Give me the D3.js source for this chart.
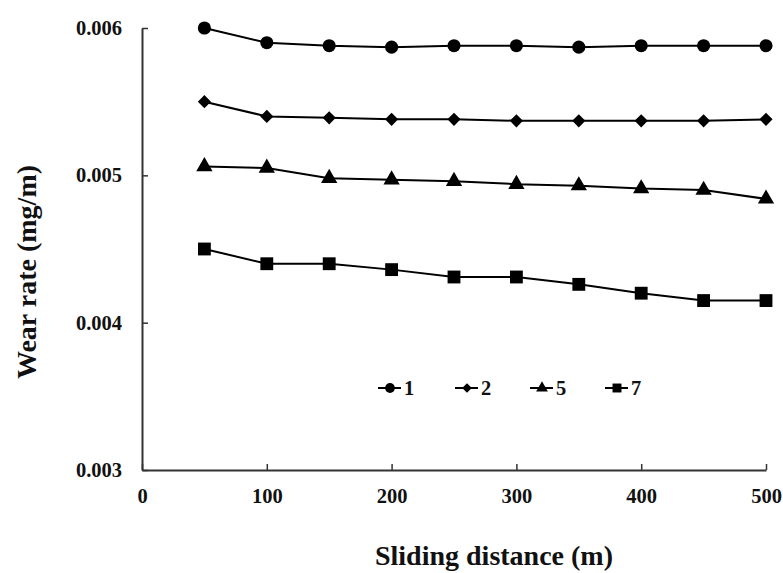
<!DOCTYPE html>
<html>
<head>
<meta charset="utf-8">
<script src="https://cdn.jsdelivr.net/npm/d3@7"></script>
<style>
  html, body { margin: 0; padding: 0; background: #fff; }
  svg { display: block; }
  text { font-family: "Liberation Serif", "Times New Roman", serif; font-weight: bold; fill: #111; }
</style>
</head>
<body>
<svg id="chart" width="783" height="573"></svg>
<script>
// ---- data ----
const distances = [50, 100, 150, 200, 250, 300, 350, 400, 450, 500];
const seriesNames = ["1", "2", "5", "7"];
const series1 = [0.00600, 0.00590, 0.00588, 0.00587, 0.00588, 0.00588, 0.00587, 0.00588, 0.00588, 0.00588];
const series2 = [0.00550, 0.00540, 0.00539, 0.00538, 0.00538, 0.00537, 0.00537, 0.00537, 0.00537, 0.00538];
const series5 = [0.00506, 0.00505, 0.00498, 0.00497, 0.00496, 0.00494, 0.00493, 0.00491, 0.00490, 0.00484];
const series7 = [0.00450, 0.00440, 0.00440, 0.00436, 0.00431, 0.00431, 0.00426, 0.00420, 0.00415, 0.00415];
const xTicks = [0, 100, 200, 300, 400, 500];
const yTicks = [0.003, 0.004, 0.005, 0.006];
const xTitle = "Sliding distance (m)";
const yTitle = "Wear rate (mg/m)";

const allSeries = [series1, series2, series5, series7];
const symbols = [d3.symbolCircle, d3.symbolDiamond2, d3.symbolTriangle, d3.symbolSquare];
const symbolSizes = [135, 110, 115, 165];
const legendSizes = [75, 60, 60, 80];

const svg = d3.select("#chart");
const x = d3.scaleLinear().domain([0, 500]).range([142, 766]);
const y = d3.scaleLinear().domain([0.003, 0.006]).range([470, 28]);
const axisColor = "#333";

// y axis
const gy = svg.append("g").attr("transform", `translate(${x(0)},0)`)
  .call(d3.axisLeft(y).tickValues(yTicks).tickFormat(d3.format(".3f"))
    .tickSizeInner(-6).tickSizeOuter(0).tickPadding(20));
gy.select(".domain").attr("stroke", axisColor).attr("stroke-width", 2);
gy.selectAll(".tick line").attr("stroke", axisColor).attr("stroke-width", 1.5);
gy.selectAll(".tick text").attr("font-size", 20.5).attr("font-family", "Liberation Serif").attr("font-weight", "bold").attr("fill", "#111");

// x axis
const gx = svg.append("g").attr("transform", `translate(0,${y(0.003)})`)
  .call(d3.axisBottom(x).tickValues(xTicks).tickFormat(d3.format("d"))
    .tickSizeInner(-6).tickSizeOuter(0));
gx.select(".domain").attr("stroke", axisColor).attr("stroke-width", 2);
gx.selectAll(".tick line").attr("stroke", axisColor).attr("stroke-width", 1.5);
gx.selectAll(".tick text").attr("font-size", 20.5).attr("y", 33).attr("dy", 0)
  .attr("font-family", "Liberation Serif").attr("font-weight", "bold").attr("fill", "#111");

// lines and markers
const line = d3.line().x((d, i) => x(distances[i])).y(d => y(d));
allSeries.forEach((vals, s) => {
  svg.append("path").datum(vals).attr("d", line)
    .attr("fill", "none").attr("stroke", "#000").attr("stroke-width", 2);
  svg.append("g").selectAll("path").data(vals).join("path")
    .attr("d", d3.symbol().type(symbols[s]).size(symbolSizes[s]))
    .attr("transform", (d, i) => `translate(${x(distances[i])},${y(d)})`)
    .attr("fill", "#000");
});

// legend
const legendX = [378, 455, 530, 605];
const legendY = 388;
seriesNames.forEach((name, s) => {
  const g = svg.append("g").attr("transform", `translate(${legendX[s]},${legendY})`);
  g.append("line").attr("x1", 0).attr("x2", 23).attr("y1", 0).attr("y2", 0)
    .attr("stroke", "#000").attr("stroke-width", 2);
  g.append("path").attr("d", d3.symbol().type(symbols[s]).size(legendSizes[s])())
    .attr("transform", "translate(12,0)").attr("fill", "#000");
  g.append("text").attr("x", 26).attr("y", 7).attr("font-size", 20.5).text(name);
});

// axis titles
svg.append("text").attr("x", 494).attr("y", 565).attr("text-anchor", "middle")
  .attr("font-size", 28).text(xTitle);
svg.append("text").attr("transform", "translate(36,272) rotate(-90)")
  .attr("text-anchor", "middle").attr("font-size", 28).text(yTitle);
</script>
</body>
</html>
